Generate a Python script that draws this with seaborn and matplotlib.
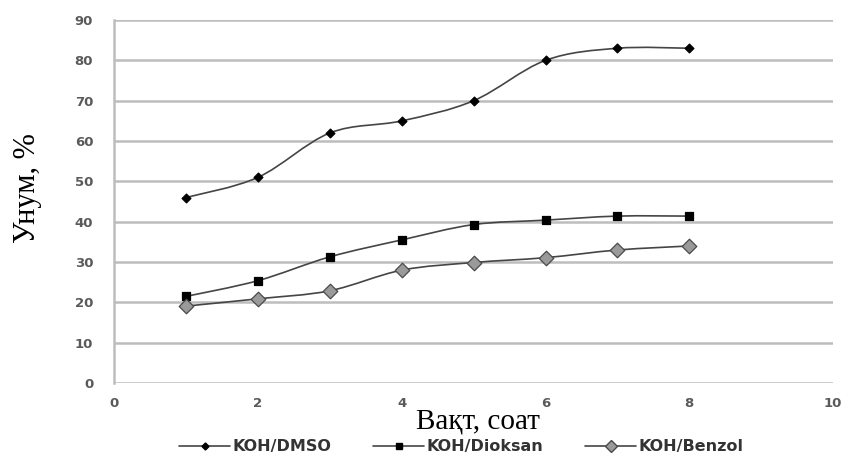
import numpy as np
import pandas as pd
import matplotlib
matplotlib.use("Agg")
import matplotlib.pyplot as plt
from matplotlib.path import Path
from matplotlib.patches import PathPatch
from matplotlib.lines import Line2D
import seaborn as sns

# Reaction time, hours
hours = [1, 2, 3, 4, 5, 6, 7, 8]
# Yield, %
koh_dmso = [46, 51, 62, 65, 70, 80, 83, 83]
koh_dioksan = [21.5, 25.4, 31.3, 35.5, 39.3, 40.4, 41.4, 41.4]
koh_benzol = [19.1, 20.9, 22.9, 28, 29.9, 31.1, 33, 34]
series_names = ["KOH/DMSO", "KOH/Dioksan", "KOH/Benzol"]
y_ticks = [0, 10, 20, 30, 40, 50, 60, 70, 80, 90]
x_ticks = [0, 2, 4, 6, 8, 10]

df = pd.DataFrame({
    "hours": hours * 3,
    "yield": koh_dmso + koh_dioksan + koh_benzol,
    "series": sum([[n] * len(hours) for n in series_names], []),
})

sns.set_theme(style="white")
plt.rcParams["font.family"] = ["DejaVu Sans"]

fig = plt.figure(figsize=(8.45, 4.65), dpi=100)
ax = fig.add_axes([0.135, 0.176, 0.851, 0.781])

line_color = "#454545"
grid_color = "#bdbdbd"
tick_color = "#5a5a5a"

styles = {
    "KOH/DMSO": dict(marker="D", s=20, fc="#000000", ec="#000000"),
    "KOH/Dioksan": dict(marker="s", s=28, fc="#000000", ec="#000000"),
    "KOH/Benzol": dict(marker="D", s=55, fc="#9a9a9a", ec="#4a4a4a"),
}


def smooth_path(xs, ys):
    """Cubic Bezier path through the points (spreadsheet-style smoothing)."""
    pts = np.column_stack([xs, ys]).astype(float)
    ext = np.vstack([pts[0], pts, pts[-1]])
    verts = [pts[0]]
    codes = [Path.MOVETO]
    for i in range(len(pts) - 1):
        p_prev, p0, p1, p_next = ext[i], ext[i + 1], ext[i + 2], ext[i + 3]
        c1 = p0 + (p1 - p_prev) / 6.0
        c2 = p1 - (p_next - p0) / 6.0
        verts += [c1, c2, p1]
        codes += [Path.CURVE4] * 3
    return Path(verts, codes)


for name in series_names:
    sub = df[df["series"] == name]
    patch = PathPatch(smooth_path(sub["hours"].values, sub["yield"].values),
                      fc="none", ec=line_color, lw=1.2, zorder=2)
    ax.add_patch(patch)

for name in series_names:
    st = styles[name]
    sns.scatterplot(data=df[df["series"] == name], x="hours", y="yield",
                    marker=st["marker"], s=st["s"], color=st["fc"],
                    edgecolor=st["ec"], linewidth=0.9, ax=ax, zorder=3,
                    legend=False)

ax.set_xlim(0, 10)
ax.set_ylim(0, 90)
ax.set_xticks(x_ticks)
ax.set_yticks(y_ticks)
ax.yaxis.grid(True, color=grid_color, lw=1.8)
ax.xaxis.grid(False)
for side in ["top", "right", "bottom"]:
    ax.spines[side].set_visible(False)
ax.spines["left"].set_color(grid_color)
ax.spines["left"].set_linewidth(1.8)
ax.tick_params(axis="both", length=0, labelsize=9.5, labelcolor=tick_color)
ax.tick_params(axis="y", pad=15)
ax.tick_params(axis="x", pad=10)
for lab in ax.get_xticklabels() + ax.get_yticklabels():
    lab.set_fontweight("bold")

ax.set_xlabel("")
ax.set_ylabel("")
fig.text(0.566, 0.093, "Вақт, соат", family="Liberation Serif", fontsize=21,
         ha="center", va="center", color="#000000")
fig.text(0.033, 0.595, "Унум, %", family="Liberation Serif", fontsize=22,
         ha="center", va="center", rotation=90, color="#000000")

handles = []
for name in series_names:
    st = styles[name]
    handles.append(Line2D([0], [0], color=line_color, lw=1.2,
                          marker=st["marker"], markersize=np.sqrt(st["s"]) * 0.8,
                          markerfacecolor=st["fc"], markeredgecolor=st["ec"]))
leg = fig.legend(handles, series_names, loc="center",
                 bbox_to_anchor=(0.546, 0.039), ncol=3, frameon=False,
                 fontsize=11.5, handlelength=3.2, columnspacing=2.6,
                 handletextpad=0.15, labelcolor="#333333")
for t in leg.get_texts():
    t.set_fontweight("bold")

fig.savefig("out.png", dpi=100)
